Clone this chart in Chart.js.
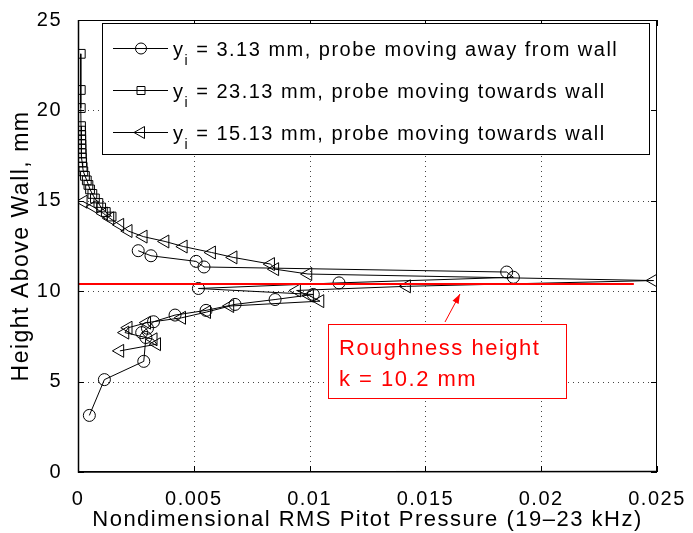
<!DOCTYPE html>
<html>
<head>
<meta charset="utf-8">
<script src="https://cdn.jsdelivr.net/npm/chart.js@4/dist/chart.umd.min.js"></script>
<style>
  html, body { margin: 0; padding: 0; background: #fff; }
  #wrap { width: 693px; height: 533px; }
</style>
</head>
<body>
<div id="wrap"><canvas id="pitotChart" width="693" height="533"></canvas></div>
<script>
// Tick labels
const X_TICKS = [0, 0.005, 0.01, 0.015, 0.02, 0.025];
const X_TICK_LABELS = ["0", "0.005", "0.01", "0.015", "0.02", "0.025"];
const Y_TICKS = [0, 5, 10, 15, 20, 25];

// y_i = 3.13 mm, probe moving away from wall (circles)
const awayX = [0.00049, 0.00114, 0.00284, 0.00293, 0.00275, 0.00300, 0.00326, 0.00419, 0.00553, 0.00678,
               0.00851, 0.01016, 0.00520, 0.01127, 0.01880, 0.01851, 0.00544, 0.00510, 0.00315, 0.00260];
const awayY = [3.13, 5.11, 6.12, 7.44, 7.71, 7.95, 8.31, 8.68, 8.94, 9.27,
               9.54, 9.82, 10.15, 10.46, 10.77, 11.06, 11.34, 11.65, 11.96, 12.24];

// y_i = 23.13 mm, probe moving towards wall (squares)
const fromTopX = [0.00012, 0.00012, 0.00012, 0.00013, 0.00013, 0.00014, 0.00014, 0.00015, 0.00015, 0.00016,
                  0.00017, 0.00018, 0.00020, 0.00023, 0.00030, 0.00038, 0.00045, 0.00052, 0.00062, 0.00073,
                  0.00088, 0.00100, 0.00120, 0.00145];
const fromTopY = [23.13, 21.13, 20.13, 19.13, 18.88, 18.63, 18.38, 18.13, 17.88, 17.63,
                  17.38, 17.13, 16.88, 16.63, 16.38, 16.13, 15.88, 15.63, 15.38, 15.13,
                  14.88, 14.63, 14.38, 14.13];

// y_i = 15.13 mm, probe moving towards wall (triangles)
const fromMidX = [0.00023, 0.00066, 0.00110, 0.00138, 0.00181, 0.00217, 0.00282, 0.00376, 0.00455, 0.00577,
                  0.00670, 0.00832, 0.00850, 0.00993, 0.02485, 0.01419, 0.00944, 0.01000, 0.01045, 0.00656,
                  0.00556, 0.00448, 0.00297, 0.00217, 0.00203, 0.00325, 0.00340, 0.00181];
const fromMidY = [14.95, 14.67, 14.30, 14.03, 13.67, 13.33, 13.02, 12.75, 12.47, 12.14,
                  11.87, 11.50, 11.22, 10.95, 10.59, 10.27, 10.04, 9.75, 9.45, 9.18,
                  8.85, 8.53, 8.26, 7.98, 7.71, 7.34, 7.07, 6.70];

// Roughness height line
const roughX = [0, 0.024];
const roughY = [10.4, 10.4];

const SERIES_LABELS = [
    " = 3.13 mm, probe moving away from wall",
    " = 23.13 mm, probe moving towards wall",
    " = 15.13 mm, probe moving towards wall"
];
const NOTE_LINES = ["Roughness height", "k = 10.2 mm"];

const FONT = "'Liberation Sans', Arial, Helvetica, sans-serif";
const SPACING = "1.5px"; // the original lettering runs a bit wider than Arial

const toPoints = (xs, ys) => xs.map((x, i) => ({ x, y: ys[i] }));

// Draws a single marker (used for the hand-made legend)
function drawMarker(ctx, style, x, y) {
    ctx.beginPath();
    if (style === "circle") {
        ctx.arc(x, y, 5.5, 0, Math.PI * 2);
    } else if (style === "rect") {
        ctx.rect(x - 4, y - 4, 8, 8);
    } else {
        ctx.moveTo(x - 7, y);
        ctx.lineTo(x + 3.5, y - 6);
        ctx.lineTo(x + 3.5, y + 6);
        ctx.closePath();
    }
    ctx.stroke();
}

// Wider lettering for everything the chart writes
const spacing = {
    id: "spacing",
    beforeUpdate(chart) { chart.ctx.letterSpacing = SPACING; },
    beforeDraw(chart) { chart.ctx.letterSpacing = SPACING; }
};

// Dotted MATLAB-style grid
const dottedGrid = {
    id: "dottedGrid",
    beforeDatasetsDraw(chart) {
        const { ctx, chartArea: a, scales } = chart;
        ctx.save();
        ctx.strokeStyle = "#444";
        ctx.lineWidth = 1;
        ctx.setLineDash([1, 4]);
        ctx.beginPath();
        X_TICKS.slice(1, -1).forEach(v => {
            const px = Math.round(scales.x.getPixelForValue(v)) + 0.5;
            ctx.moveTo(px, a.bottom); ctx.lineTo(px, a.top);
        });
        Y_TICKS.slice(1, -1).forEach(v => {
            const py = Math.round(scales.y.getPixelForValue(v)) + 0.5;
            ctx.moveTo(a.left, py); ctx.lineTo(a.right, py);
        });
        ctx.stroke();
        ctx.restore();
    }
};

// Frame, inward ticks, legend and the annotation box
const decorations = {
    id: "decorations",
    afterDraw(chart) {
        const { ctx, chartArea: a, scales } = chart;
        const xs = scales.x, ys = scales.y;
        ctx.save();

        // Frame
        ctx.strokeStyle = "#000";
        ctx.lineWidth = 1;
        ctx.strokeRect(a.left + 0.5, a.top + 0.5, a.right - a.left - 1, a.bottom - a.top - 1);
        ctx.lineWidth = 1.5;
        ctx.beginPath();
        ctx.moveTo(a.left + 0.5, a.top);
        ctx.lineTo(a.left + 0.5, a.bottom);
        ctx.lineTo(a.right, a.bottom - 0.5);
        ctx.stroke();

        // Inward ticks
        ctx.lineWidth = 1;
        const len = 6;
        ctx.beginPath();
        X_TICKS.forEach(v => {
            const px = Math.round(xs.getPixelForValue(v)) + 0.5;
            ctx.moveTo(px, a.bottom); ctx.lineTo(px, a.bottom - len);
            ctx.moveTo(px, a.top); ctx.lineTo(px, a.top + len);
        });
        Y_TICKS.forEach(v => {
            const py = Math.round(ys.getPixelForValue(v)) + 0.5;
            ctx.moveTo(a.left, py); ctx.lineTo(a.left + len, py);
            ctx.moveTo(a.right, py); ctx.lineTo(a.right - len, py);
        });
        ctx.stroke();

        // Legend
        const lx = 102.5, ly = 23.5, lw = 547, lh = 131;
        ctx.fillStyle = "#fff";
        ctx.fillRect(lx, ly, lw, lh);
        ctx.lineWidth = 1;
        ctx.strokeStyle = "#000";
        ctx.strokeRect(lx, ly, lw, lh);
        const styles = ["circle", "rect", "triangle"];
        const rowY = [48, 90, 132];
        styles.forEach((s, i) => {
            const y = rowY[i] + 0.5;
            ctx.strokeStyle = "#000";
            ctx.lineWidth = 1;
            ctx.beginPath();
            ctx.moveTo(113, y); ctx.lineTo(168, y);
            ctx.stroke();
            drawMarker(ctx, s, 141, y);

            ctx.fillStyle = "#000";
            ctx.textBaseline = "alphabetic";
            ctx.textAlign = "left";
            ctx.font = `20px ${FONT}`;
            let tx = 173;
            ctx.fillText("y", tx, rowY[i] + 8);
            tx += ctx.measureText("y").width;
            ctx.font = `14px ${FONT}`;
            ctx.fillText("i", tx, rowY[i] + 17);
            tx += ctx.measureText("i").width;
            ctx.font = `20px ${FONT}`;
            ctx.fillText(SERIES_LABELS[i], tx, rowY[i] + 8);
        });

        // Annotation box
        ctx.fillStyle = "#fff";
        ctx.fillRect(328.5, 324.5, 238, 74);
        ctx.strokeStyle = "#ff0000";
        ctx.lineWidth = 1;
        ctx.strokeRect(328.5, 324.5, 238, 74);
        ctx.fillStyle = "#ff0000";
        ctx.font = `22px ${FONT}`;
        ctx.fillText(NOTE_LINES[0], 339, 355);
        ctx.fillText(NOTE_LINES[1], 339, 386);

        // Arrow
        const tipX = 460, tipY = 294, tailX = 445, tailY = 322;
        ctx.beginPath();
        ctx.moveTo(tailX, tailY); ctx.lineTo(tipX, tipY);
        ctx.stroke();
        const ang = Math.atan2(tipY - tailY, tipX - tailX);
        ctx.beginPath();
        ctx.moveTo(tipX, tipY);
        ctx.lineTo(tipX - 10 * Math.cos(ang - 0.35), tipY - 10 * Math.sin(ang - 0.35));
        ctx.lineTo(tipX - 10 * Math.cos(ang + 0.35), tipY - 10 * Math.sin(ang + 0.35));
        ctx.closePath();
        ctx.fill();

        ctx.restore();
    }
};

const ctx = document.getElementById("pitotChart");

new Chart(ctx, {
    type: "scatter",
    data: {
        datasets: [
            {
                label: "Roughness height",
                data: toPoints(roughX, roughY),
                showLine: true,
                borderColor: "#ff0000",
                borderWidth: 2,
                pointRadius: 0
            },
            {
                label: "yi = 3.13 mm, probe moving away from wall",
                data: toPoints(awayX, awayY),
                showLine: true,
                borderColor: "#000",
                borderWidth: 1,
                pointStyle: "circle",
                pointRadius: 6,
                pointBorderWidth: 1,
                pointBackgroundColor: "rgba(0,0,0,0)"
            },
            {
                label: "yi = 23.13 mm, probe moving towards wall",
                data: toPoints(fromTopX, fromTopY),
                showLine: true,
                borderColor: "#000",
                borderWidth: 1,
                pointStyle: "rect",
                pointRadius: 6.2,
                pointBorderWidth: 1,
                pointBackgroundColor: "rgba(0,0,0,0)"
            },
            {
                label: "yi = 15.13 mm, probe moving towards wall",
                data: toPoints(fromMidX, fromMidY),
                showLine: true,
                borderColor: "#000",
                borderWidth: 1,
                pointStyle: "triangle",
                pointRotation: -90,
                pointRadius: 7.5,
                pointBorderWidth: 1,
                pointBackgroundColor: "rgba(0,0,0,0)"
            }
        ]
    },
    options: {
        responsive: false,
        animation: false,
        events: [],
        layout: { padding: { top: 17, right: 36, left: 0, bottom: 0 } },
        plugins: {
            legend: { display: false },
            tooltip: { enabled: false }
        },
        scales: {
            x: {
                type: "linear",
                min: 0,
                max: 0.025,
                afterFit(scale) { scale.height = 61; },
                afterBuildTicks(scale) { scale.ticks = X_TICKS.map(v => ({ value: v })); },
                ticks: {
                    color: "#000",
                    padding: 7,
                    font: { family: FONT, size: 20 },
                    callback: (v) => X_TICK_LABELS[X_TICKS.indexOf(v)] ?? ""
                },
                grid: { display: false },
                border: { display: false },
                title: {
                    display: true,
                    text: "Nondimensional RMS Pitot Pressure (19\u201323 kHz)",
                    color: "#000",
                    font: { family: FONT, size: 22 },
                    padding: { top: 0, bottom: 0 }
                }
            },
            y: {
                type: "linear",
                min: 0,
                max: 25,
                afterFit(scale) { scale.width = 78; },
                afterBuildTicks(scale) { scale.ticks = Y_TICKS.map(v => ({ value: v })); },
                ticks: {
                    color: "#000",
                    padding: 8,
                    font: { family: FONT, size: 20 }
                },
                grid: { display: false },
                border: { display: false },
                title: {
                    display: true,
                    text: "Height Above Wall, mm",
                    color: "#000",
                    font: { family: FONT, size: 23 },
                    padding: { top: 8, bottom: 0 }
                }
            }
        }
    },
    plugins: [spacing, dottedGrid, decorations]
});
</script>
</body>
</html>
